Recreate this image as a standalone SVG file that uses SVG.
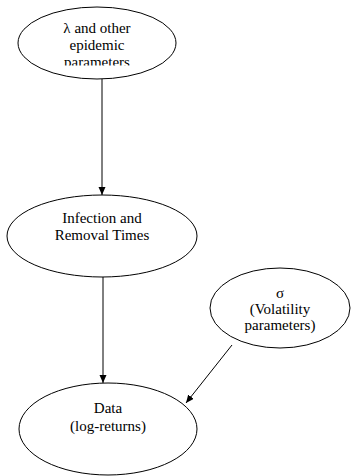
<svg xmlns="http://www.w3.org/2000/svg" width="351" height="476" viewBox="0 0 351 476">
<style>
.shape{fill:#fff;stroke:#000;stroke-width:1}
.edge{stroke:#000;stroke-width:1;fill:none}
</style>
<defs>
<marker id="arr" markerUnits="userSpaceOnUse" markerWidth="9" markerHeight="8" refX="8" refY="3.5" orient="auto" viewBox="0 0 9 8">
<path d="M0,0 L8,3.5 L0,7 z" fill="#000"/>
</marker>
<clipPath id="clip1"><rect x="0" y="0" width="351" height="65.5"/></clipPath>
</defs>
<rect width="351" height="476" fill="#fff"/>
<g id="connectors">
<line class="edge" x1="102" y1="79" x2="102" y2="195" marker-end="url(#arr)"/>
<line class="edge" x1="103" y1="277" x2="103" y2="383" marker-end="url(#arr)"/>
<line class="edge" x1="232" y1="345" x2="186" y2="403" marker-end="url(#arr)"/>
</g>
<g id="node-lambda">
<ellipse class="shape" cx="97" cy="43" rx="79" ry="36"/>
<g clip-path="url(#clip1)">
<text x="97" y="33" font-family="Liberation Serif" font-size="15" text-anchor="middle">λ and other</text>
<text x="97" y="50" font-family="Liberation Serif" font-size="15" text-anchor="middle">epidemic</text>
<text x="97" y="67" font-family="Liberation Serif" font-size="15" text-anchor="middle">parameters</text>
</g>
</g>
<g id="node-infection">
<ellipse class="shape" cx="102" cy="236" rx="95" ry="41"/>
<text x="102" y="223" font-family="Liberation Serif" font-size="15" text-anchor="middle">Infection and</text>
<text x="102" y="240" font-family="Liberation Serif" font-size="15" text-anchor="middle">Removal Times</text>
</g>
<g id="node-sigma">
<ellipse class="shape" cx="280" cy="308" rx="70" ry="40"/>
<text x="280" y="298" font-family="Liberation Serif" font-size="15" text-anchor="middle">σ</text>
<text x="280" y="314" font-family="Liberation Serif" font-size="15" text-anchor="middle">(Volatility</text>
<text x="280" y="330" font-family="Liberation Serif" font-size="15" text-anchor="middle">parameters)</text>
</g>
<g id="node-data">
<ellipse class="shape" cx="108" cy="429" rx="89" ry="46"/>
<text x="108" y="413" font-family="Liberation Serif" font-size="15" text-anchor="middle">Data</text>
<text x="108" y="431" font-family="Liberation Serif" font-size="15" text-anchor="middle">(log-returns)</text>
</g>
</svg>
